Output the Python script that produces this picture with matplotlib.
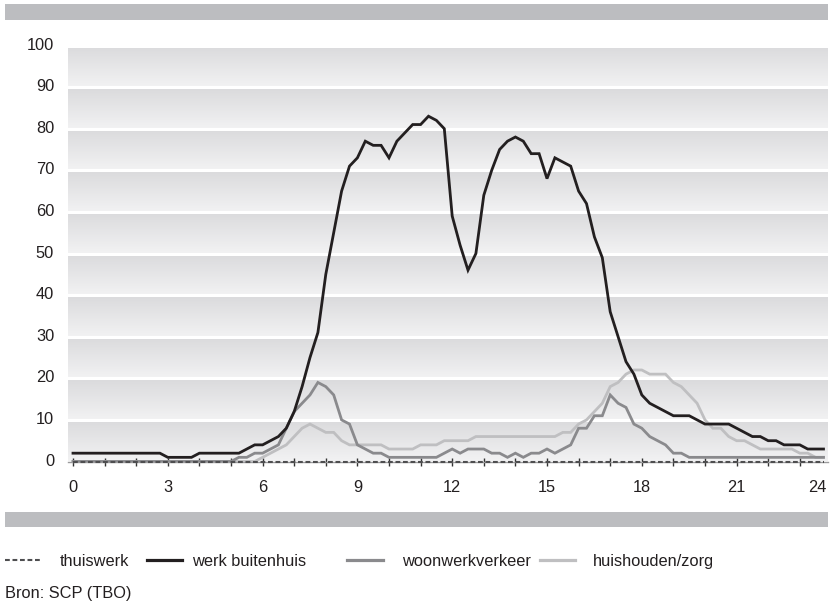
import numpy as np
import matplotlib
matplotlib.use("Agg")
import matplotlib.pyplot as plt
from matplotlib.colors import LinearSegmentedColormap
from matplotlib.patches import Rectangle
from matplotlib.lines import Line2D
import matplotlib.transforms as mtransforms

plt.rcParams['font.family'] = ['Liberation Sans', 'DejaVu Sans']

# quarter-hour slots 0:00 .. 23:45
quarters = np.arange(0, 24, 0.25)

werk_buitenhuis = [
    2, 2, 2, 2, 2, 2, 2, 2,
    2, 2, 2, 2, 1, 1, 1, 1,
    2, 2, 2, 2, 2, 2, 3, 4,
    4, 5, 6, 8, 12, 18, 25, 31,
    45, 55, 65, 71, 73, 77, 76, 76,
    73, 77, 79, 81, 81, 83, 82, 80,
    59, 52, 46, 50, 64, 70, 75, 77,
    78, 77, 74, 74, 68, 73, 72, 71,
    65, 62, 54, 49, 36, 30, 24, 21,
    16, 14, 13, 12, 11, 11, 11, 10,
    9, 9, 9, 9, 8, 7, 6, 6,
    5, 5, 4, 4, 4, 3, 3, 3,
]
woonwerkverkeer = [
    0, 0, 0, 0, 0, 0, 0, 0,
    0, 0, 0, 0, 0, 0, 0, 0,
    0, 0, 0, 0, 0, 1, 1, 2,
    2, 3, 4, 8, 12, 14, 16, 19,
    18, 16, 10, 9, 4, 3, 2, 2,
    1, 1, 1, 1, 1, 1, 1, 2,
    3, 2, 3, 3, 3, 2, 2, 1,
    2, 1, 2, 2, 3, 2, 3, 4,
    8, 8, 11, 11, 16, 14, 13, 9,
    8, 6, 5, 4, 2, 2, 1, 1,
    1, 1, 1, 1, 1, 1, 1, 1,
    1, 1, 1, 1, 1, 1, 1, 1,
]
huishouden_zorg = [
    0, 0, 0, 0, 0, 0, 0, 0,
    0, 0, 0, 0, 0, 0, 0, 0,
    0, 0, 0, 0, 0, 0, 0, 0,
    1, 2, 3, 4, 6, 8, 9, 8,
    7, 7, 5, 4, 4, 4, 4, 4,
    3, 3, 3, 3, 4, 4, 4, 5,
    5, 5, 5, 6, 6, 6, 6, 6,
    6, 6, 6, 6, 6, 6, 7, 7,
    9, 10, 12, 14, 18, 19, 21, 22,
    22, 21, 21, 21, 19, 18, 16, 14,
    10, 8, 8, 6, 5, 5, 4, 3,
    3, 3, 3, 3, 2, 2, 1, 1,
]
thuiswerk = [
    0, 0, 0, 0, 0, 0, 0, 0,
    0, 0, 0, 0, 0, 0, 0, 0,
    0, 0, 0, 0, 0, 0, 0, 0,
    0, 0, 0, 0, 0, 0, 0, 0,
    0, 0, 0, 0, 0, 0, 0, 0,
    0, 0, 0, 0, 0, 0, 0, 0,
    0, 0, 0, 0, 0, 0, 0, 0,
    0, 0, 0, 0, 0, 0, 0, 0,
    0, 0, 0, 0, 0, 0, 0, 0,
    0, 0, 0, 0, 0, 0, 0, 0,
    0, 0, 0, 0, 0, 0, 0, 0,
    0, 0, 0, 0, 0, 0, 0, 0,
]

series_labels = ['thuiswerk', 'werk buitenhuis', 'woonwerkverkeer', 'huishouden/zorg']
x_ticks = list(range(0, 24))
x_labels = ['0', '3', '6', '9', '12', '15', '18', '21', '24']
y_ticks = [0, 10, 20, 30, 40, 50, 60, 70, 80, 90, 100]
source_text = 'Bron: SCP (TBO)'

TEXT = '#231f20'
C_BLACK = '#231f20'
C_MID = '#8a8a8d'
C_LIGHT = '#bfbfc1'
C_DASH = '#4e4e50'
C_BAR = '#bcbdc0'
FS = 11.8

W, H = 833, 602
fig = plt.figure(figsize=(W / 100, H / 100), dpi=100)

def fx(px):
    return px / W

def fy(py):
    return 1 - py / H

ax_left, ax_right = 68, 828
ax_top, ax_bottom = 45.5, 461.5
ax = fig.add_axes([fx(ax_left), fy(ax_bottom), fx(ax_right - ax_left), (ax_bottom - ax_top) / H])

xmin, xmax = -5 / 31.6, (828 - 73) / 31.6
ax.set_xlim(xmin, xmax)
ax.set_ylim(0, 100)

# gradient bands
cmap = LinearSegmentedColormap.from_list('band', ['#dadadc', '#f2f2f3'])
grad = np.linspace(0, 1, 64).reshape(-1, 1)
for k in range(10):
    ax.imshow(grad, extent=[xmin, xmax, 10 * k, 10 * k + 10], aspect='auto',
              cmap=cmap, origin='upper', zorder=0, interpolation='bilinear')
for yv in y_ticks[1:]:
    ax.axhline(yv, color='white', lw=2.2, zorder=1)
ax.set_xlim(xmin, xmax)
ax.set_ylim(0, 100)

for s in ax.spines.values():
    s.set_visible(False)

ax.axhline(0, color='#9a9a9c', lw=1.0, zorder=2, clip_on=False)

ax.plot(quarters, huishouden_zorg, color=C_LIGHT, lw=2.0, zorder=3, solid_joinstyle='miter')
ax.plot(quarters, woonwerkverkeer, color=C_MID, lw=2.0, zorder=4, solid_joinstyle='miter')
ax.plot(quarters, werk_buitenhuis, color=C_BLACK, lw=2.0, zorder=5, solid_joinstyle='miter')
ax.plot(quarters, thuiswerk, color=C_DASH, lw=1.5, ls=(0, (2.3, 1.3)), zorder=6, clip_on=False)

ax.set_xticks(x_ticks)
ax.set_xticklabels([str(t) if t % 3 == 0 else '' for t in x_ticks])
ax.tick_params(axis='x', direction='inout', length=6, width=1, color='#333333',
               labelsize=FS, labelcolor=TEXT, pad=10)
ax.text(23.54, 0, x_labels[-1], fontsize=FS, color=TEXT, ha='center', va='top')
# place the "24" label at the same height as the tick labels
fig.canvas.draw()
lab0 = ax.get_xticklabels()[0]
bb = lab0.get_window_extent()
t24 = ax.texts[-1]
t24.set_transform(mtransforms.blended_transform_factory(ax.transData, mtransforms.IdentityTransform()))
t24.set_position((23.54, bb.y1))

ax.set_yticks(y_ticks)
ax.set_yticklabels([str(v) for v in y_ticks])
ax.tick_params(axis='y', length=0, labelsize=FS, labelcolor=TEXT, pad=10)
offset = mtransforms.ScaledTranslation(0, 2 / 100, fig.dpi_scale_trans)
for lab in ax.get_yticklabels():
    lab.set_transform(lab.get_transform() + offset)

# grey header / footer bars
fig.add_artist(Rectangle((fx(5), fy(20)), fx(823), 16 / H, transform=fig.transFigure,
                         color=C_BAR, lw=0))
fig.add_artist(Rectangle((fx(5), fy(527)), fx(823), 15 / H, transform=fig.transFigure,
                         color=C_BAR, lw=0))

# legend
ly = fy(560)
leg = [
    (5, 40, 60, C_DASH, (0, (2.3, 1.3)), 1.5),
    (147, 182, 192, C_BLACK, '-', 2.3),
    (347, 383, 402, C_MID, '-', 2.3),
    (540, 575, 593, C_LIGHT, '-', 2.3),
]
for (x0, x1, xt, c, ls, lw), lab in zip(leg, series_labels):
    fig.add_artist(Line2D([fx(x0), fx(x1)], [ly, ly], transform=fig.transFigure,
                          color=c, ls=ls, lw=lw))
    fig.text(fx(xt), ly, lab, fontsize=FS, color=TEXT, ha='left', va='center_baseline')

fig.text(fx(5), fy(592), source_text, fontsize=FS, color=TEXT, ha='left', va='center_baseline')

fig.savefig('out.png', dpi=100)
